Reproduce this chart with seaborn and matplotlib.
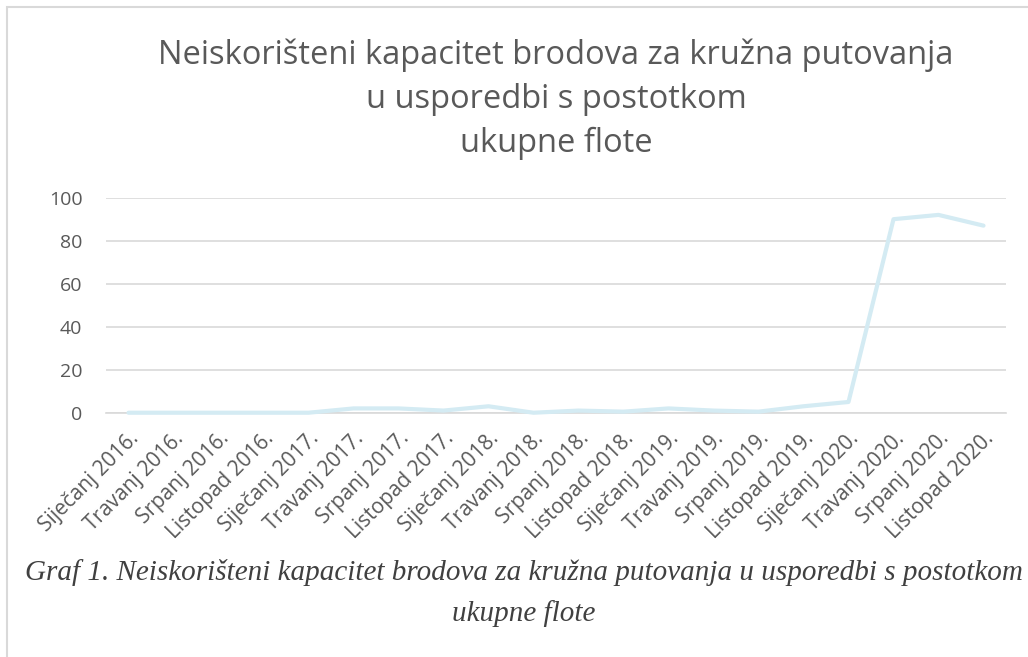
import matplotlib.pyplot as plt
import seaborn as sns
import pandas as pd
from matplotlib.patches import Rectangle

# -----------------------------------------------------
# DATA
# -----------------------------------------------------
periods = [
    "Siječanj 2016.", "Travanj 2016.", "Srpanj 2016.", "Listopad 2016.",
    "Siječanj 2017.", "Travanj 2017.", "Srpanj 2017.", "Listopad 2017.",
    "Siječanj 2018.", "Travanj 2018.", "Srpanj 2018.", "Listopad 2018.",
    "Siječanj 2019.", "Travanj 2019.", "Srpanj 2019.", "Listopad 2019.",
    "Siječanj 2020.", "Travanj 2020.", "Srpanj 2020.", "Listopad 2020.",
]
unused_capacity = [0, 0, 0, 0, 0, 2, 2, 1, 3, 0, 1, 0.5, 2, 1, 0.5, 3, 5, 90, 92, 87]
y_ticks = [0, 20, 40, 60, 80, 100]

title_lines = ["Neiskorišteni kapacitet brodova za kružna putovanja",
               "u usporedbi s postotkom",
               "ukupne flote"]
caption_lines = ["Graf 1. Neiskorišteni kapacitet brodova za kružna putovanja u usporedbi s postotkom",
                 "ukupne flote"]

df = pd.DataFrame({"period": periods, "value": unused_capacity})
df["pos"] = range(len(df))

# -----------------------------------------------------
# PLOT
# -----------------------------------------------------
sns.set_theme(style="white")
plt.rcParams["font.family"] = ["Open Sans", "DejaVu Sans"]

W, H = 1028, 657
fig = plt.figure(figsize=(W / 100, H / 100), dpi=100)
ax = fig.add_axes([0.1031, 0.3718, 0.8755, 0.3273])

sns.lineplot(data=df, x="pos", y="value", ax=ax, color="#d4ebf3",
             linewidth=3.0, clip_on=False, solid_joinstyle="round",
             solid_capstyle="round")

ax.set_xlim(-0.5, len(periods) - 0.5)
ax.set_ylim(0, 100)
ax.set_yticks(y_ticks)
ax.set_xticks(df["pos"])
ax.set_xticklabels(periods, rotation=45, ha="right", rotation_mode="anchor")
ax.set_xlabel("")
ax.set_ylabel("")

ax.yaxis.grid(True, color="#d9d9d9", linewidth=1.2)
ax.set_axisbelow(True)
for side in ["left", "right", "top"]:
    ax.spines[side].set_visible(False)
ax.spines["bottom"].set_color("#d9d9d9")
ax.spines["bottom"].set_linewidth(1.2)
ax.spines["bottom"].set_zorder(0)

ax.tick_params(axis="y", labelsize=14, labelcolor="#595959", length=0, pad=17)
ax.tick_params(axis="x", labelsize=15, labelcolor="#595959", length=0, pad=11)

# title, one line at a time
for i, line in enumerate(title_lines):
    fig.text(556 / W, 1 - (55 + 44 * i) / H, line, ha="center", va="center",
             fontsize=23.5, color="#595959")

# caption below the chart
for i, line in enumerate(caption_lines):
    fig.text(524 / W, 1 - (572 + 42 * i) / H, line, ha="center", va="center",
             fontsize=21, color="#404040", style="italic",
             family="Liberation Serif")

# chart border (left and top edges visible)
fig.patches.append(Rectangle((7 / W, -0.05), 1.2, 1 - 7 / H + 0.05,
                             transform=fig.transFigure, fill=False,
                             edgecolor="#d9d9d9", linewidth=1.5))

plt.savefig("out.png", dpi=100)
